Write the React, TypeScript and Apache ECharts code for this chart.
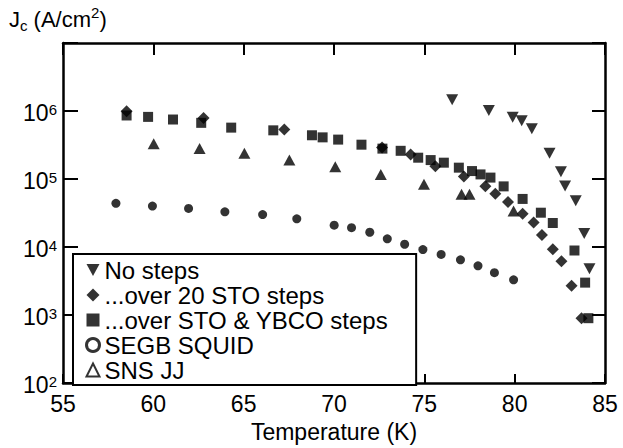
import React, { useEffect, useRef } from "react";
import * as echarts from "echarts";

const FONT = "Liberation Sans";

const xTicks = [55, 60, 65, 70, 75, 80, 85];
const yExponents = [2, 3, 4, 5, 6, 7];

const seriesNames = [
  "No steps",
  "...over 20 STO steps",
  "...over STO & YBCO steps",
  "SEGB SQUID",
  "SNS JJ",
];

// Temperature (K), Jc (A/cm^2)
const noSteps: number[][] = [
  [76.54, 1.47e6], [78.57, 1.02e6], [79.89, 8.1e5], [80.39, 7.2e5], [80.95, 5.5e5],
  [81.93, 2.4e5], [82.56, 1.28e5], [82.79, 7.9e4], [83.38, 4.8e4], [83.85, 1.58e4],
  [84.14, 4.8e3],
];

const over20STO: number[][] = [
  [58.52, 9.9e5], [62.78, 7.9e5], [67.25, 5.35e5], [72.66, 2.9e5], [74.24, 2.3e5],
  [75.61, 1.54e5], [77.19, 1.09e5], [78.38, 7.85e4], [78.93, 6.1e4], [79.63, 4.6e4],
  [80.44, 3.1e4], [81.05, 2.3e4], [81.51, 1.5e4], [82.11, 9.3e3], [82.59, 6.2e3],
  [83.15, 2.7e3], [83.7, 9e2],
];

const overSTOYBCO: number[][] = [
  [58.52, 8.6e5], [59.71, 8.2e5], [61.09, 7.5e5], [62.65, 6.7e5], [64.31, 5.7e5],
  [66.64, 5.2e5], [68.78, 4.4e5], [69.37, 4.1e5], [70.23, 3.8e5], [71.52, 3.2e5],
  [72.68, 2.8e5], [73.69, 2.6e5], [74.66, 2.06e5], [75.35, 1.9e5], [76.08, 1.74e5],
  [76.91, 1.47e5], [77.64, 1.31e5], [78.11, 1.17e5], [78.66, 1.05e5], [79.39, 7.8e4],
  [80.44, 5.1e4], [81.45, 3.2e4], [82.11, 2.26e4], [83.31, 8.9e3], [83.9, 3.0e3],
  [84.08, 9e2],
];

const segbSquid: number[][] = [
  [57.93, 4.4e4], [59.95, 4.0e4], [61.95, 3.7e4], [63.96, 3.3e4], [66.05, 3.0e4],
  [67.94, 2.6e4], [70.01, 2.1e4], [70.97, 1.93e4], [71.98, 1.65e4], [72.95, 1.32e4],
  [73.91, 1.1e4], [74.92, 9.2e3], [75.93, 7.8e3], [77.0, 6.5e3], [77.97, 5.3e3],
  [78.88, 4.2e3], [79.94, 3.3e3],
];

const snsJJ: number[][] = [
  [60.02, 3.3e5], [62.56, 2.8e5], [65.04, 2.4e5], [67.53, 1.9e5], [70.07, 1.52e5],
  [72.59, 1.17e5], [74.98, 8.4e4], [77.06, 6.0e4], [77.5, 6.0e4], [79.94, 3.4e4],
];

const DOWN_TRI = "path://M0,0L12,0L6,11Z";

export default function App() {
  const ref = useRef<HTMLDivElement>(null);
  useEffect(() => {
    if (!ref.current) return;
    const chart = echarts.init(ref.current, null, { renderer: "svg" });
    const axisLine = { show: true, lineStyle: { color: "#000", width: 2.5 } };
    const yFormatter = (v: number) => {
      const e = Math.round(Math.log10(v));
      if (!yExponents.includes(e) || e === 7) return "";
      return `{b|10}{s|${e}}`;
    };
    const option: any = {
      animation: false,
      backgroundColor: "#fff",
      textStyle: { fontFamily: FONT },
      grid: { left: 63, right: 18, top: 43, bottom: 63 },
      xAxis: [
        {
          type: "value",
          position: "bottom",
          min: xTicks[0],
          max: xTicks[xTicks.length - 1],
          interval: 5,
          axisLine,
          axisTick: { inside: true, length: 9, lineStyle: { color: "#000", width: 2 } },
          axisLabel: { color: "#000", fontSize: 23, fontFamily: FONT, margin: 9 },
          splitLine: { show: false },
          name: "Temperature (K)",
          nameLocation: "middle",
          nameGap: 35,
          nameTextStyle: { color: "#000", fontSize: 23, fontFamily: FONT },
        },
        {
          type: "value",
          position: "top",
          min: xTicks[0],
          max: xTicks[xTicks.length - 1],
          interval: 5,
          axisLine,
          axisTick: { inside: true, length: 12, lineStyle: { color: "#000", width: 2 } },
          axisLabel: { show: false },
          splitLine: { show: false },
        },
      ],
      yAxis: [
        {
          type: "log",
          logBase: 10,
          position: "left",
          min: 1e2,
          max: 1e7,
          axisLine,
          axisTick: { inside: true, length: 15, lineStyle: { color: "#000", width: 2 } },
          axisLabel: {
            color: "#000",
            margin: 6,
            formatter: yFormatter,
            padding: [4, 0, 0, 0],
            rich: {
              b: { fontSize: 23, fontFamily: FONT, color: "#000", lineHeight: 22 },
              s: { fontSize: 15, fontFamily: FONT, color: "#000", lineHeight: 13, verticalAlign: "top" },
            },
          },
          splitLine: { show: false },
          minorTick: { show: false },
        },
        {
          type: "log",
          logBase: 10,
          position: "right",
          min: 1e2,
          max: 1e7,
          axisLine,
          axisTick: { inside: true, length: 13, lineStyle: { color: "#000", width: 2 } },
          axisLabel: { show: false },
          splitLine: { show: false },
        },
      ],
      legend: {
        orient: "vertical",
        left: 73,
        top: 254,
        padding: [4, 28, 3, 12],
        itemGap: 1,
        itemWidth: 13,
        itemHeight: 13,
        borderColor: "#000",
        borderWidth: 2,
        backgroundColor: "#fff",
        selectedMode: false,
        z: 10,
        textStyle: { color: "#000", fontSize: 24, fontFamily: FONT, lineHeight: 24 },
        data: [
          { name: seriesNames[0] },
          { name: seriesNames[1] },
          { name: seriesNames[2] },
          { name: seriesNames[3], itemStyle: { color: "#fff", borderColor: "#000", borderWidth: 3 } },
          { name: seriesNames[4], itemStyle: { color: "#fff", borderColor: "#000", borderWidth: 2 } },
        ],
      },
      graphic: [
        {
          type: "text",
          left: 9,
          top: 5,
          style: {
            text: "{m|J}{sub|c}{m| (A/cm}{sup|2}{m|)}",
            rich: {
              m: { fontSize: 22, fontFamily: FONT, fill: "#000", lineHeight: 28, verticalAlign: "middle" },
              sub: { fontSize: 15, fontFamily: FONT, fill: "#000", lineHeight: 14, verticalAlign: "bottom" },
              sup: { fontSize: 15, fontFamily: FONT, fill: "#000", lineHeight: 14, verticalAlign: "top" },
            },
          },
        },
      ],
      series: [
        {
          name: seriesNames[0],
          type: "scatter",
          data: noSteps,
          symbol: DOWN_TRI,
          symbolSize: [12, 11],
          itemStyle: { color: "#000" },
        },
        {
          name: seriesNames[1],
          type: "scatter",
          data: over20STO,
          symbol: "diamond",
          symbolSize: [12, 12],
          itemStyle: { color: "#000" },
        },
        {
          name: seriesNames[2],
          type: "scatter",
          data: overSTOYBCO,
          symbol: "rect",
          symbolSize: 10,
          itemStyle: { color: "#000" },
        },
        {
          name: seriesNames[3],
          type: "scatter",
          data: segbSquid,
          symbol: "circle",
          symbolSize: 9,
          itemStyle: { color: "#000" },
        },
        {
          name: seriesNames[4],
          type: "scatter",
          data: snsJJ,
          symbol: "triangle",
          symbolSize: [12, 11],
          itemStyle: { color: "#000" },
        },
      ],
    };
    chart.setOption(option);
    return () => chart.dispose();
  }, []);
  return (
    <div
      ref={ref}
      style={{ position: "fixed", left: 0, top: 0, width: 623, height: 448, background: "#fff" }}
    />
  );
}
